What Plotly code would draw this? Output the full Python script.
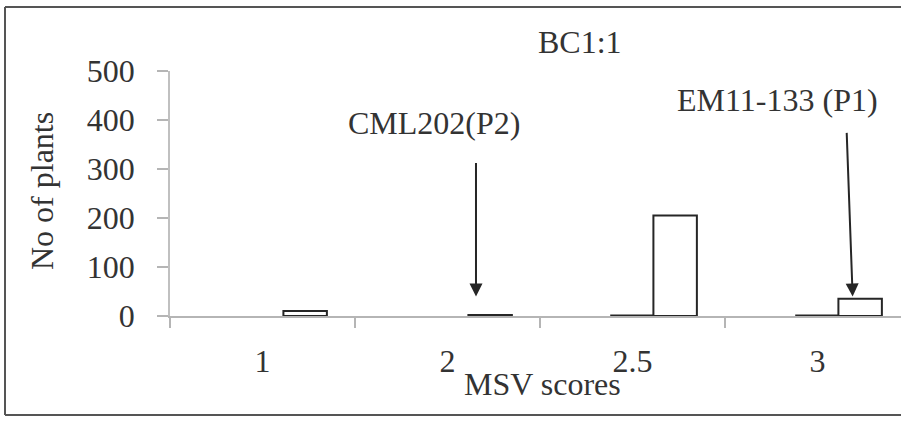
import plotly.graph_objects as go

# ---- data ----
categories = ["1", "2", "2.5", "3"]
series_mid = [None, None, 1, 1]        # near-zero bars drawn as thick lines
series_right = [10, 2, 205, 35]
y_ticks = [0, 100, 200, 300, 400, 500]

W, H = 901, 421
L, R, T, B = 170, 0, 71, 105
pw, ph = W - L - R, H - T - B


def px(x):
    return (x - L) / pw


def py(y):
    return (H - B - y) / ph


FONT = "Liberation Serif"
TXT = "#333333"
xpos = list(range(len(categories)))

fig = go.Figure()
bar_style = dict(color="white", line=dict(color="#262626", width=2))
fig.add_bar(x=xpos, y=series_mid, offset=-0.115, width=0.228, marker=bar_style)
fig.add_bar(x=xpos, y=series_right, offset=0.113, width=0.235, marker=bar_style)

fig.update_layout(
    width=W, height=H,
    margin=dict(l=L, r=R, t=T, b=B),
    paper_bgcolor="white", plot_bgcolor="white",
    showlegend=False, barmode="overlay",
    font=dict(family=FONT, size=32, color=TXT),
)
fig.update_xaxes(
    range=[-0.5, -0.5 + pw / 185.0],
    tickmode="array", tickvals=xpos, ticktext=categories,
    ticks="", ticklabelstandoff=16,
    tickfont=dict(family=FONT, size=32, color=TXT),
    showline=True, linecolor="#b5b5b5", linewidth=1.5,
    showgrid=False, zeroline=False,
    minor=dict(tickmode="array", tickvals=[-0.5, 0.5, 1.5, 2.5], ticks="outside",
               ticklen=10, tickcolor="#b5b5b5", tickwidth=1.5, showgrid=False),
)
fig.update_yaxes(
    range=[0, 500], tickmode="array", tickvals=y_ticks,
    ticks="outside", ticklen=11, tickcolor="#b5b5b5", tickwidth=1.5,
    ticklabelstandoff=16,
    tickfont=dict(family=FONT, size=32, color=TXT),
    showline=True, linecolor="#c0c0c0", linewidth=1.5,
    showgrid=False, zeroline=False,
)

# border (left, top, bottom)
border = dict(color="#555555", width=2)
fig.add_shape(type="line", xref="paper", yref="paper", x0=px(5), x1=px(901), y0=py(7), y1=py(7), line=border)
fig.add_shape(type="line", xref="paper", yref="paper", x0=px(5), x1=px(5), y0=py(7), y1=py(415), line=border)
fig.add_shape(type="line", xref="paper", yref="paper", x0=px(5), x1=px(901), y0=py(415), y1=py(415), line=border)


def text(t, x, y, size=32, angle=0):
    fig.add_annotation(text=t, xref="paper", yref="paper", x=px(x), y=py(y),
                       xanchor="center", yanchor="middle", showarrow=False,
                       textangle=angle, font=dict(family=FONT, size=size, color=TXT))


text("BC1:1", 580, 42)
text("CML202(P2)", 434, 123)
text("EM11-133 (P1)", 777, 100)
text("No of plants", 42, 191, angle=-90)
text("MSV scores", 542, 384)

# arrows
arrow = dict(showarrow=True, arrowhead=2, arrowsize=1.3, arrowwidth=2,
             arrowcolor="#262626", axref="pixel", ayref="pixel", text="")
fig.add_annotation(x=1.154, y=40, xref="x", yref="y", ax=0, ay=-135, **arrow)
fig.add_annotation(x=3.19, y=40, xref="x", yref="y", ax=-6, ay=-165, **arrow)

fig.write_html(
    "out.html", config={"displayModeBar": False},
    post_script=("document.body.style.margin='0';"
                 "document.body.style.overflow='hidden';"
                 "document.documentElement.style.overflow='hidden';"),
)
